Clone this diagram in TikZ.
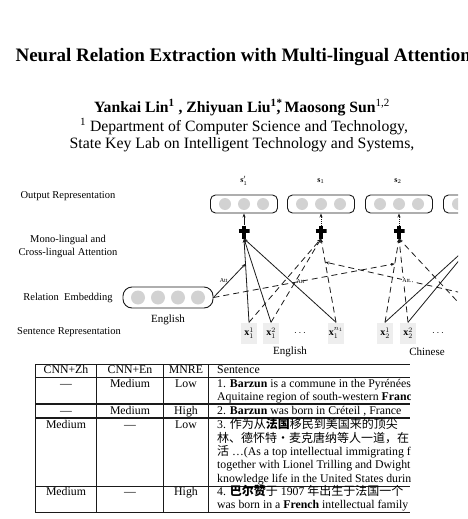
\documentclass[tikz,border=0pt]{standalone}
\usepackage{fontspec}
\setmainfont{Liberation Serif}
\newfontfamily\cjk{Noto Sans CJK SC}
\usepackage{tikz}
\usetikzlibrary{arrows.meta,positioning,calc}
\definecolor{cellgray}{HTML}{EEEEEE}
\definecolor{dotgray}{HTML}{D2D2D2}
\definecolor{inkgray}{HTML}{1A1A1A}
\tikzset{
  vec/.style={draw=inkgray, rounded corners=5pt, line width=.9pt, minimum width=67pt, minimum height=18pt, inner sep=0pt},
  relbox/.style={draw=inkgray, rounded corners=9pt, line width=.9pt, minimum width=90pt, minimum height=21pt, inner sep=0pt},
  unit/.style={circle, fill=dotgray, minimum size=12pt, inner sep=0pt},
  runit/.style={unit, minimum size=14pt},
  sent/.style={fill=cellgray, minimum width=16pt, minimum height=21pt, inner sep=0pt, font=\fontsize{10}{10}\selectfont},
  plusnode/.style={minimum width=11pt, minimum height=13pt, inner sep=0pt,
    path picture={\draw[line width=3.2pt] (path picture bounding box.north) -- (path picture bounding box.south)
      ($(path picture bounding box.west)+(0,1pt)$) -- ($(path picture bounding box.east)+(0,1pt)$);}},
  side/.style={font=\fontsize{10.5}{13}\selectfont, align=center},
  lang/.style={font=\fontsize{11}{12}\selectfont},
  attlbl/.style={font=\fontsize{6}{6}\selectfont, inner sep=.5pt},
  mono/.style={line width=.8pt, draw=inkgray, -{Stealth[length=4pt,width=3pt]}},
  cross/.style={mono, dash pattern=on 6pt off 4pt},
  dots/.style={mono, densely dotted},
  rule/.style={line width=.8pt, draw=inkgray},
  cellt/.style={font=\fontsize{11.8}{13}\selectfont, inner sep=0pt, anchor=base},
  sentt/.style={cellt, anchor=base west},
}

\begin{document}
\begin{tikzpicture}[x=1pt, y=-1pt]
  \useasboundingbox (0,0) rectangle (468,519);
  % header of the page
  \node[font=\bfseries\fontsize{19}{22}\selectfont, anchor=base west] (title) at (12,62) {Neural Relation Extraction with Multi-lingual Attention};
  \node[font=\bfseries\fontsize{15.7}{18}\selectfont, anchor=base] (authors) at (242,112)
    {Yankai Lin\textsuperscript{1} , Zhiyuan Liu\textsuperscript{1}\rlap{\textsuperscript{*}}, Maosong Sun\textsuperscript{\mdseries 1,2}};
  \node[font=\fontsize{15.7}{18}\selectfont, anchor=base] (aff1) at (244,131) {\textsuperscript{1} Department of Computer Science and Technology,};
  \node[font=\fontsize{15.8}{18}\selectfont, anchor=base] (aff2) at (242,148) {State Key Lab on Intelligent Technology and Systems,};

  % architecture
  \begin{scope}
    \clip (0,160) rectangle (458,362);
    \node[side] (lout) at (68,196) {Output Representation};
    \node[side] (latt) at (68,246) {Mono-lingual and\\Cross-lingual Attention};
    \node[side] (lrel) at (68,298) {Relation\enspace Embedding};
    \node[side] (lsen) at (69,332) {Sentence Representation};

    \node[relbox] (rel) at (168,297.5) {};
    \foreach \dx in {-30,-10,10,30}
      \node[runit] at ($(rel)+(\dx,0)$) {};
    \node[lang, below=3pt of rel] (relen) {English};

    \foreach \n/\x in {1/244,2/321,3/399,4/477}{
      \node[vec] (o\n) at (\x,204) {};
      \foreach \dx in {-19,0,19}
        \node[unit] at ($(o\n)+(\dx,0)$) {};
      \node[plusnode] (p\n) at (\x,232) {};
    }
    \node[font=\fontsize{8}{8}\selectfont] (s1) at (244,181) {$\textbf{s}_{1}^{\prime}$};
    \node[font=\fontsize{8}{8}\selectfont] (s2) at (321,181) {$\textbf{s}_{1}$};
    \node[font=\fontsize{8}{8}\selectfont] (s3) at (398,181) {$\textbf{s}_{2}$};

    \draw[mono] (p1.north) -- (o1.south);
    \foreach \n in {2,3,4}
      \draw[dots] (p\n.north) -- (o\n.south);

    \node[sent] (x11) at (249,333) {$\textbf{x}_{1}^{1}$};
    \node[sent] (x12) at (271,333) {$\textbf{x}_{1}^{2}$};
    \node[font=\fontsize{10}{10}\selectfont] (d1) at (300,333) {$\cdots$};
    \node[sent] (x1n) at (336,333) {$\textbf{x}_{1}^{n_1}$};
    \node[sent] (x21) at (385,333) {$\textbf{x}_{2}^{1}$};
    \node[sent] (x22) at (408,333) {$\textbf{x}_{2}^{2}$};
    \node[font=\fontsize{10}{10}\selectfont] (d2) at (438,333) {$\cdots$};
    \coordinate (x2n) at (477,322.5);
    \node[lang] (en) at (290,352) {English};
    \node[lang] (zh) at (427,352) {Chinese};

    \foreach \s in {x11,x12,x1n}{
      \draw[mono] (\s.north) -- (p1.south);
      \draw[cross] (\s.north) -- (p2.south);
    }
    \foreach \s in {x21.north,x22.north,x2n}{
      \draw[cross] (\s) -- (p3.south);
      \draw[mono] (\s) -- (p4.south);
    }

    \coordinate (a1) at ($(p1.south)!.3!(x11.north)$);
    \coordinate (a2) at ($(p2.south)!.28!(x1n.north)$);
    \coordinate (a3) at ($(p3.south)!.3!(x21.north)$);
    \coordinate (relzh) at (520,306);
    \draw[mono] (rel.east) -- node[attlbl, pos=.5, left=1pt] {Att} (a1);
    \draw[cross] (rel.east) -- node[attlbl, pos=.48] {Att} (a3);
    \draw[cross] (relzh) -- node[attlbl, pos=.58, fill=white] {Att.} (a2);
  \end{scope}

  % case study table
  \foreach \y in {364,377,486,512}
    \draw[rule] (35,\y) -- (410,\y);
  \foreach \y in {404,418}
    \draw[rule, line width=1.3pt] (35,\y) -- (410,\y);
  \foreach \x in {35,96,163,208}
    \draw[rule] (\x,364) -- (\x,512);

  \node[cellt] (h1) at (66,373) {CNN+Zh};
  \node[cellt] (h2) at (130,373) {CNN+En};
  \node[cellt] (h3) at (186,373) {MNRE};
  \foreach \r/\y/\a/\b/\c in {1/387/---/Medium/Low, 2/414/---/Medium/High, 3/428/Medium/---/Low, 4/495/Medium/---/High}{
    \node[cellt] (zh\r) at (66,\y) {\a};
    \node[cellt] (en\r) at (130,\y) {\b};
    \node[cellt] (mn\r) at (186,\y) {\c};
  }

  \begin{scope}
    \clip (208,364) rectangle (410,512);
    \node[sentt] (h4) at (217,373) {Sentence};
    \node[sentt] (t1a) at (217,387) {1. \textbf{Barzun} is a commune in the Pyrénées};
    \node[sentt] (t1b) at (217,400) {Aquitaine region of south-western \textbf{France}};
    \node[sentt] (t2) at (217,414) {2. \textbf{Barzun} was born in Créteil , France};
    \node[sentt] (t3a) at (217,428) {3. {\cjk\fontsize{12}{13}\selectfont 作为从\textbf{法国}移民到美国来的顶尖}};
    \node[sentt] (t3b) at (217,442) {{\cjk\fontsize{12}{13}\selectfont 林、德怀特・麦克唐纳等人一道，在}};
    \node[sentt] (t3c) at (217,455) {{\cjk\fontsize{12}{13}\selectfont 活} …(As a top intellectual immigrating from};
    \node[sentt] (t3d) at (217,468) {together with Lionel Trilling and Dwight};
    \node[sentt] (t3e) at (217,482) {knowledge life in the United States during};
    \node[sentt] (t4a) at (217,495) {4. {\cjk\fontsize{12}{13}\selectfont\textbf{巴尔赞}于} 1907 {\cjk\fontsize{12}{13}\selectfont 年出生于法国一个}};
    \node[sentt] (t4b) at (217,508) {was born in a \textbf{French} intellectual family};
  \end{scope}
\end{tikzpicture}
\end{document}
